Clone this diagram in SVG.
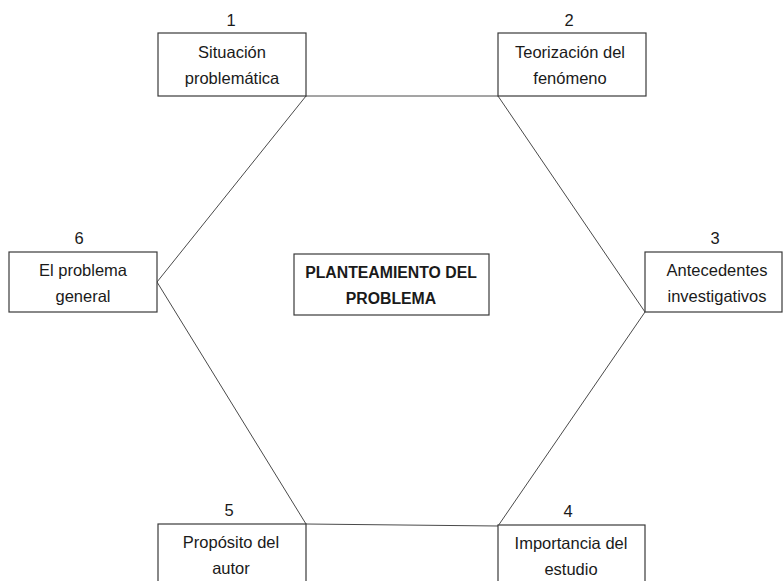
<svg xmlns="http://www.w3.org/2000/svg" width="783" height="581" viewBox="0 0 783 581">
<style>
.box{fill:#fff;stroke:#3a3a3a;stroke-width:1.2}
.t{font-family:"Liberation Sans",Arial,sans-serif;font-size:16.5px;fill:#1a1a1a;text-anchor:middle}
.b{font-weight:bold;font-size:15.8px}
.ln{stroke:#4a4a4a;stroke-width:1;fill:none}
</style>
<rect width="783" height="581" fill="#fff"/>
<g id="connectors">
<line class="ln" x1="306" y1="96" x2="498" y2="96"/>
<line class="ln" x1="498" y1="96" x2="645" y2="312"/>
<line class="ln" x1="645" y1="312" x2="498" y2="526"/>
<line class="ln" x1="498" y1="526" x2="306" y2="524"/>
<line class="ln" x1="306" y1="524" x2="157" y2="282"/>
<line class="ln" x1="157" y1="282" x2="306" y2="96"/>
</g>
<g id="n1">
<rect class="box" x="158" y="33" width="148" height="63"/>
<text class="t" x="231" y="26">1</text>
<text class="t" x="232" y="58">Situación</text>
<text class="t" x="232" y="84">problemática</text>
</g>
<g id="n2">
<rect class="box" x="498" y="33" width="148" height="63"/>
<text class="t" x="569" y="26">2</text>
<text class="t" x="570" y="58">Teorización del</text>
<text class="t" x="570" y="84">fenómeno</text>
</g>
<g id="n3">
<rect class="box" x="645" y="252" width="137" height="60"/>
<text class="t" x="715" y="244">3</text>
<text class="t" x="717" y="276">Antecedentes</text>
<text class="t" x="717" y="302">investigativos</text>
</g>
<g id="n4">
<rect class="box" x="498" y="525" width="147" height="60"/>
<text class="t" x="568" y="517">4</text>
<text class="t" x="571" y="549">Importancia del</text>
<text class="t" x="571" y="575">estudio</text>
</g>
<g id="n5">
<rect class="box" x="158" y="524" width="148" height="60"/>
<text class="t" x="229" y="516">5</text>
<text class="t" x="231" y="548">Propósito del</text>
<text class="t" x="231" y="574">autor</text>
</g>
<g id="n6">
<rect class="box" x="9" y="252" width="148" height="60"/>
<text class="t" x="79" y="244">6</text>
<text class="t" x="83" y="276">El problema</text>
<text class="t" x="83" y="302">general</text>
</g>
<g id="center">
<rect class="box" x="294" y="254" width="195" height="61"/>
<text class="t b" x="391" y="278">PLANTEAMIENTO DEL</text>
<text class="t b" x="391" y="304">PROBLEMA</text>
</g>
</svg>
